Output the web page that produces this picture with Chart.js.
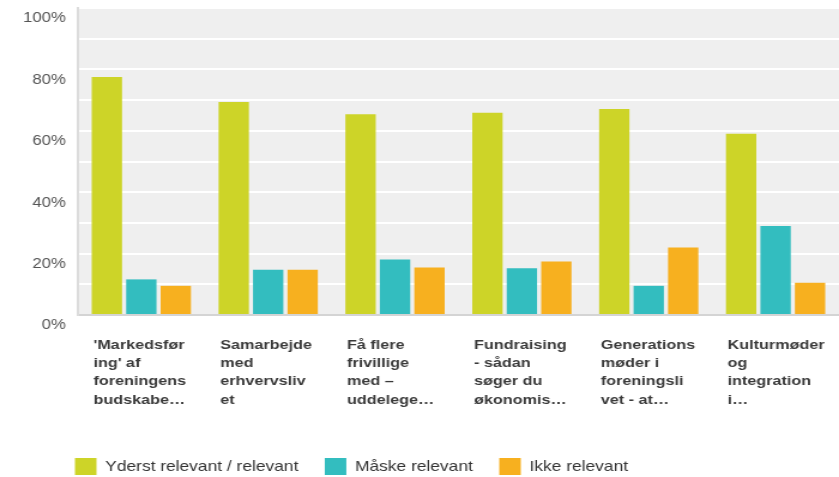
<!DOCTYPE html>
<html lang="da">
<head>
    <meta charset="UTF-8">
    <title>Relevans af emner</title>
    <script src="https://cdn.jsdelivr.net/npm/chart.js"></script>
    <style>
        body { margin: 0; background: #fff; }
    </style>
</head>
<body>
    <!-- the picture is a bit wider than it was drawn, so the canvas is stretched -->
    <canvas id="chart" width="700" height="477" style="width:839px;height:477px;display:block"></canvas>
    <script>
        const categories = [
            ["'Markedsfør", "ing' af", "foreningens", "budskabe…"],
            ["Samarbejde", "med", "erhvervsliv", "et"],
            ["Få flere", "frivillige", "med –", "uddelege…"],
            ["Fundraising", "- sådan", "søger du", "økonomis…"],
            ["Generations", "møder i", "foreningsli", "vet - at…"],
            ["Kulturmøder", "og", "integration", "i…"]
        ];
        const seriesNames = ['Yderst relevant / relevant', 'Måske relevant', 'Ikke relevant'];
        const relevant = [77.5, 69.4, 65.4, 65.9, 67.1, 59.0];
        const maaske = [11.6, 14.7, 18.1, 15.2, 9.5, 29.0];
        const ikke = [9.5, 14.7, 15.5, 17.4, 22.0, 10.5];
        const colors = ['#cdd428', '#33bdbf', '#f7b01f'];

        // grey plot background + legend pushed right
        const plotBg = {
            id: 'plotBg',
            afterLayout(chart) {
                chart.legend.left += 40.5;
            },
            beforeDraw(chart) {
                const a = chart.chartArea;
                const ctx = chart.ctx;
                ctx.save();
                ctx.fillStyle = '#efefef';
                ctx.fillRect(a.left, a.top, a.right - a.left, a.bottom - a.top);
                ctx.restore();
            }
        };

        new Chart(document.getElementById('chart').getContext('2d'), {
            type: 'bar',
            data: {
                labels: categories,
                datasets: [relevant, maaske, ikke].map((d, i) => ({
                    label: seriesNames[i],
                    data: d,
                    backgroundColor: colors[i],
                    borderWidth: 0,
                    categoryPercentage: 0.815,
                    barPercentage: 0.88
                }))
            },
            options: {
                responsive: false,
                animation: false,
                layout: { padding: { left: 0, right: 0, top: 8, bottom: -8 } },
                scales: {
                    x: {
                        grid: { display: false },
                        border: { color: '#d4d4d4', width: 2 },
                        ticks: {
                            color: '#3a3a3a',
                            font: { family: 'Liberation Sans, Arial', size: 13.5, weight: 'bold', lineHeight: 1.356 },
                            align: 'start',
                            labelOffset: -40,
                            padding: 13,
                            maxRotation: 0,
                            minRotation: 0,
                            autoSkip: false
                        },
                        afterFit(scale) {
                            scale.paddingLeft = 0;
                            scale.paddingRight = 0;
                            scale.height = 121;
                        }
                    },
                    y: {
                        min: 0,
                        max: 100,
                        grid: { color: '#ffffff', lineWidth: 2, drawTicks: false },
                        border: { color: '#dcdcdc', width: 2 },
                        ticks: {
                            stepSize: 10,
                            color: '#555',
                            font: { family: 'Liberation Sans, Arial', size: 14 },
                            padding: 10,
                            labelOffset: 10.5,
                            callback: v => (v % 20 === 0 ? v + '%' : '')
                        },
                        afterFit(scale) {
                            scale.width = 65;
                            scale.paddingTop = 0;
                            scale.paddingBottom = 0;
                        }
                    }
                },
                plugins: {
                    legend: {
                        position: 'bottom',
                        align: 'start',
                        labels: {
                            color: '#333',
                            font: { family: 'Liberation Sans, Arial', size: 14.5 },
                            boxWidth: 18,
                            boxHeight: 17,
                            padding: 22
                        }
                    },
                    tooltip: { enabled: false }
                }
            },
            plugins: [plotBg]
        });
    </script>
</body>
</html>
